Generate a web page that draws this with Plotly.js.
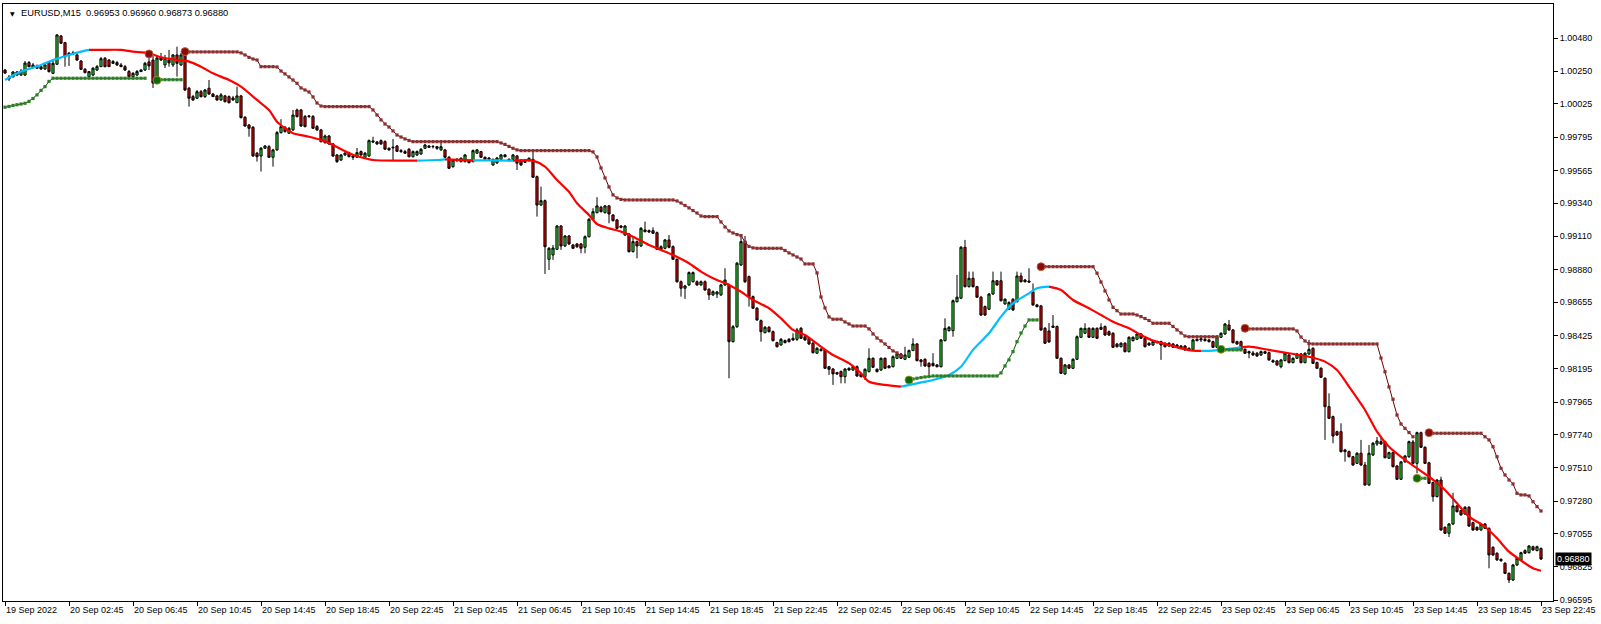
<!DOCTYPE html>
<html><head><meta charset="utf-8">
<script src="https://cdn.plot.ly/plotly-3.0.1.min.js"></script>
<style>html,body{margin:0;padding:0;background:#fff;}#chart{width:1601px;height:624px;}</style>
</head><body><div id="chart"></div>
<script>
const symbolTitle = 'EURUSD,M15';
const lastQuote = ['0.96953', '0.96960', '0.96873', '0.96880'];
const lastPrice = 0.96880;

const timeLabels = ['19 Sep 2022','20 Sep 02:45','20 Sep 06:45','20 Sep 10:45','20 Sep 14:45','20 Sep 18:45','20 Sep 22:45',
  '21 Sep 02:45','21 Sep 06:45','21 Sep 10:45','21 Sep 14:45','21 Sep 18:45','21 Sep 22:45',
  '22 Sep 02:45','22 Sep 06:45','22 Sep 10:45','22 Sep 14:45','22 Sep 18:45','22 Sep 22:45',
  '23 Sep 02:45','23 Sep 06:45','23 Sep 10:45','23 Sep 14:45','23 Sep 18:45','23 Sep 22:45'];
const barsPerLabel = 16;
const priceTicks = [1.00480,1.00250,1.00025,0.99795,0.99565,0.99340,0.99110,0.98880,0.98655,0.98425,0.98195,0.97965,0.97740,0.97510,0.97280,0.97055,0.96825,0.96595];

const open = [
1.00259,1.00197,1.00211,1.00245,1.00224,1.00224,1.00310,1.00294,1.00287,1.00282,
1.00266,1.00310,1.00236,1.00299,1.00494,1.00448,1.00363,1.00377,1.00363,1.00321,
1.00264,1.00213,1.00224,1.00259,1.00282,1.00340,1.00328,1.00305,1.00310,1.00294,
1.00282,1.00248,1.00213,1.00224,1.00248,1.00259,1.00315,1.00328,1.00190,1.00342,
1.00294,1.00328,1.00294,1.00363,1.00294,1.00386,1.00133,1.00075,1.00064,1.00109,
1.00075,1.00133,1.00093,1.00080,1.00052,1.00080,1.00075,1.00066,1.00033,1.00080,
0.99932,0.99879,0.99863,0.99684,0.99665,0.99718,0.99729,0.99656,0.99707,0.99826,
0.99863,0.99822,0.99845,0.99983,0.99983,0.99937,0.99937,0.99937,0.99868,0.99845,
0.99757,0.99803,0.99748,0.99672,0.99637,0.99672,0.99688,0.99665,0.99656,0.99695,
0.99656,0.99665,0.99769,0.99762,0.99771,0.99764,0.99718,0.99720,0.99734,0.99702,
0.99695,0.99711,0.99660,0.99672,0.99679,0.99718,0.99734,0.99729,0.99729,0.99707,
0.99707,0.99656,0.99591,0.99642,0.99626,0.99626,0.99632,0.99626,0.99684,0.99695,
0.99656,0.99651,0.99603,0.99617,0.99642,0.99672,0.99642,0.99642,0.99665,0.99637,
0.99630,0.99632,0.99642,0.99522,0.99326,0.99356,0.98951,0.98981,0.99020,0.99181,
0.99043,0.99112,0.99050,0.99057,0.99057,0.99034,0.99107,0.99227,0.99273,0.99311,
0.99273,0.99320,0.99257,0.99223,0.99181,0.99119,0.99126,0.99004,0.99073,0.99043,
0.99154,0.99149,0.99149,0.99135,0.99038,0.99027,0.99085,0.99038,0.98951,0.98796,
0.98751,0.98774,0.98796,0.98796,0.98774,0.98796,0.98744,0.98705,0.98711,0.98705,
0.98774,0.98774,0.98382,0.98485,0.98912,0.99073,0.98831,0.98693,0.98613,0.98527,
0.98444,0.98481,0.98451,0.98375,0.98359,0.98389,0.98398,0.98405,0.98398,0.98474,
0.98416,0.98405,0.98371,0.98302,0.98329,0.98325,0.98209,0.98193,0.98168,0.98175,
0.98140,0.98198,0.98186,0.98209,0.98159,0.98140,0.98175,0.98267,0.98191,0.98186,
0.98267,0.98214,0.98209,0.98267,0.98297,0.98260,0.98274,0.98320,0.98366,0.98256,
0.98260,0.98232,0.98232,0.98221,0.98209,0.98389,0.98458,0.98458,0.98658,0.98682,
0.99034,0.98762,0.98820,0.98762,0.98689,0.98624,0.98606,0.98711,0.98803,0.98803,
0.98643,0.98606,0.98675,0.98658,0.98836,0.98808,0.98801,0.98727,0.98636,0.98629,
0.98474,0.98456,0.98490,0.98486,0.98267,0.98159,0.98221,0.98198,0.98260,0.98412,
0.98440,0.98474,0.98412,0.98474,0.98481,0.98486,0.98451,0.98440,0.98366,0.98347,
0.98371,0.98313,0.98389,0.98398,0.98435,0.98405,0.98371,0.98359,0.98382,0.98382,
0.98371,0.98371,0.98366,0.98359,0.98352,0.98352,0.98336,0.98329,0.98398,0.98394,
0.98398,0.98394,0.98382,0.98343,0.98412,0.98435,0.98497,0.98463,0.98382,0.98382,
0.98329,0.98313,0.98304,0.98302,0.98290,0.98313,0.98306,0.98251,0.98249,0.98209,
0.98251,0.98290,0.98237,0.98267,0.98297,0.98237,0.98297,0.98336,0.98237,0.98198,
0.98129,0.97933,0.97864,0.97760,0.97760,0.97634,0.97622,0.97587,0.97541,0.97611,
0.97530,0.97392,0.97599,0.97675,0.97691,0.97691,0.97576,0.97615,0.97523,0.97431,
0.97551,0.97587,0.97689,0.97541,0.97753,0.97652,0.97545,0.97408,0.97311,0.97426,
0.97099,0.97058,0.97122,0.97247,0.97214,0.97191,0.97238,0.97131,0.97099,0.97081,
0.97122,0.97092,0.96961,0.96920,0.96878,0.96851,0.96781,0.96735,0.96839,0.96874,
0.96938,0.96924,0.96965,0.96938,0.96953];

const high = [
1.00266,1.00224,1.00252,1.00252,1.00266,1.00321,1.00321,1.00307,1.00297,1.00294,
1.00301,1.00321,1.00328,1.00508,1.00501,1.00453,1.00384,1.00391,1.00377,1.00328,
1.00273,1.00252,1.00280,1.00294,1.00349,1.00349,1.00335,1.00328,1.00321,1.00307,
1.00294,1.00259,1.00245,1.00259,1.00266,1.00315,1.00342,1.00356,1.00356,1.00377,
1.00363,1.00398,1.00370,1.00420,1.00377,1.00405,1.00142,1.00087,1.00121,1.00121,
1.00128,1.00190,1.00100,1.00087,1.00100,1.00087,1.00083,1.00080,1.00144,1.00087,
0.99941,0.99886,0.99872,0.99693,0.99727,0.99741,0.99741,0.99714,0.99838,0.99919,
0.99872,0.99865,0.99983,0.99992,0.99990,0.99948,0.99948,0.99948,0.99879,0.99852,
0.99813,0.99810,0.99755,0.99679,0.99679,0.99693,0.99695,0.99672,0.99720,0.99703,
0.99693,0.99779,0.99798,0.99769,0.99779,0.99773,0.99724,0.99783,0.99741,0.99713,
0.99707,0.99720,0.99703,0.99703,0.99720,0.99748,0.99741,0.99741,0.99734,0.99757,
0.99714,0.99665,0.99644,0.99651,0.99655,0.99679,0.99637,0.99710,0.99714,0.99700,
0.99662,0.99658,0.99647,0.99658,0.99679,0.99679,0.99648,0.99679,0.99672,0.99644,
0.99637,0.99655,0.99695,0.99530,0.99453,0.99364,0.99036,0.99050,0.99188,0.99188,
0.99119,0.99119,0.99057,0.99064,0.99064,0.99116,0.99237,0.99304,0.99380,0.99320,
0.99326,0.99326,0.99264,0.99230,0.99188,0.99188,0.99133,0.99107,0.99081,0.99174,
0.99211,0.99157,0.99172,0.99143,0.99047,0.99092,0.99119,0.99047,0.98957,0.98805,
0.98774,0.98867,0.98867,0.98805,0.98805,0.98805,0.98751,0.98736,0.98732,0.98781,
0.98889,0.98784,0.98497,0.98933,0.99112,0.99112,0.98839,0.98701,0.98622,0.98535,
0.98490,0.98490,0.98459,0.98382,0.98407,0.98397,0.98407,0.98440,0.98477,0.98483,
0.98428,0.98414,0.98380,0.98345,0.98338,0.98332,0.98214,0.98200,0.98173,0.98183,
0.98200,0.98204,0.98217,0.98217,0.98166,0.98198,0.98336,0.98273,0.98197,0.98273,
0.98273,0.98221,0.98287,0.98313,0.98304,0.98347,0.98328,0.98405,0.98373,0.98262,
0.98267,0.98241,0.98302,0.98228,0.98401,0.98543,0.98490,0.98673,0.98843,0.99043,
0.99085,0.98866,0.98866,0.98767,0.98698,0.98632,0.98718,0.98866,0.98808,0.98866,
0.98682,0.98661,0.98682,0.98866,0.98859,0.98815,0.98889,0.98784,0.98643,0.98636,
0.98483,0.98511,0.98566,0.98494,0.98273,0.98228,0.98228,0.98267,0.98425,0.98479,
0.98509,0.98481,0.98481,0.98481,0.98509,0.98494,0.98459,0.98447,0.98373,0.98378,
0.98378,0.98419,0.98419,0.98442,0.98442,0.98412,0.98378,0.98389,0.98389,0.98389,
0.98378,0.98378,0.98373,0.98366,0.98359,0.98359,0.98343,0.98401,0.98405,0.98407,
0.98407,0.98401,0.98389,0.98423,0.98447,0.98511,0.98532,0.98470,0.98389,0.98389,
0.98336,0.98320,0.98318,0.98311,0.98320,0.98320,0.98313,0.98260,0.98256,0.98262,
0.98309,0.98297,0.98274,0.98304,0.98304,0.98309,0.98394,0.98343,0.98244,0.98205,
0.98136,0.98025,0.97871,0.97767,0.97818,0.97641,0.97629,0.97593,0.97618,0.97703,
0.97551,0.97668,0.97689,0.97723,0.97725,0.97698,0.97622,0.97622,0.97530,0.97558,
0.97599,0.97698,0.97703,0.97760,0.97760,0.97659,0.97552,0.97415,0.97433,0.97449,
0.97106,0.97129,0.97338,0.97254,0.97221,0.97245,0.97245,0.97138,0.97106,0.97129,
0.97129,0.97099,0.96968,0.96927,0.96885,0.96858,0.96788,0.96846,0.96892,0.96930,
0.96947,0.96977,0.96972,0.96972,0.96960];

const low = [
1.00231,1.00183,1.00209,1.00218,1.00218,1.00218,1.00278,1.00271,1.00266,1.00259,
1.00259,1.00241,1.00231,1.00294,1.00439,1.00282,1.00287,1.00363,1.00321,1.00259,
1.00235,1.00211,1.00218,1.00252,1.00280,1.00277,1.00280,1.00301,1.00287,1.00280,
1.00252,1.00211,1.00208,1.00218,1.00245,1.00252,1.00259,1.00135,1.00176,1.00321,
1.00273,1.00282,1.00280,1.00213,1.00287,1.00114,1.00006,1.00045,1.00059,1.00069,
1.00066,1.00087,1.00073,1.00045,1.00045,1.00035,1.00028,1.00045,1.00031,0.99924,
0.99866,0.99798,0.99658,0.99626,0.99557,0.99714,0.99651,0.99591,0.99700,0.99820,
0.99827,0.99817,0.99838,0.99931,0.99866,0.99862,0.99928,0.99852,0.99838,0.99758,
0.99750,0.99741,0.99658,0.99617,0.99630,0.99665,0.99655,0.99637,0.99651,0.99665,
0.99651,0.99658,0.99755,0.99741,0.99741,0.99707,0.99700,0.99637,0.99692,0.99686,
0.99679,0.99655,0.99655,0.99665,0.99672,0.99714,0.99720,0.99717,0.99707,0.99700,
0.99651,0.99575,0.99584,0.99624,0.99620,0.99620,0.99613,0.99620,0.99679,0.99651,
0.99637,0.99630,0.99596,0.99610,0.99637,0.99655,0.99627,0.99637,0.99568,0.99596,
0.99617,0.99627,0.99513,0.99246,0.99319,0.98850,0.98877,0.98947,0.99016,0.99016,
0.99036,0.99050,0.99022,0.99029,0.98993,0.98993,0.99102,0.99223,0.99268,0.99275,
0.99268,0.99200,0.99212,0.99161,0.99165,0.99112,0.98998,0.98998,0.98958,0.99036,
0.99137,0.99133,0.99126,0.99016,0.99016,0.99020,0.99027,0.98947,0.98789,0.98693,
0.98677,0.98767,0.98791,0.98767,0.98767,0.98732,0.98670,0.98698,0.98684,0.98698,
0.98767,0.98129,0.98376,0.98477,0.98905,0.98787,0.98624,0.98608,0.98525,0.98382,
0.98439,0.98445,0.98383,0.98342,0.98354,0.98370,0.98376,0.98387,0.98387,0.98401,
0.98387,0.98359,0.98300,0.98297,0.98314,0.98193,0.98152,0.98083,0.98152,0.98094,
0.98094,0.98179,0.98179,0.98138,0.98134,0.98117,0.98169,0.98200,0.98169,0.98179,
0.98193,0.98197,0.98204,0.98262,0.98262,0.98256,0.98269,0.98318,0.98245,0.98209,
0.98207,0.98152,0.98210,0.98204,0.98204,0.98383,0.98452,0.98416,0.98653,0.98677,
0.98756,0.98756,0.98756,0.98684,0.98559,0.98559,0.98601,0.98705,0.98767,0.98660,
0.98636,0.98601,0.98594,0.98653,0.98791,0.98791,0.98787,0.98629,0.98618,0.98456,
0.98366,0.98373,0.98477,0.98262,0.98159,0.98152,0.98193,0.98193,0.98256,0.98407,
0.98435,0.98407,0.98407,0.98401,0.98463,0.98421,0.98421,0.98338,0.98342,0.98342,
0.98307,0.98307,0.98383,0.98394,0.98401,0.98342,0.98352,0.98352,0.98370,0.98256,
0.98342,0.98345,0.98338,0.98342,0.98332,0.98318,0.98318,0.98325,0.98383,0.98380,
0.98383,0.98376,0.98338,0.98338,0.98407,0.98428,0.98456,0.98370,0.98359,0.98318,
0.98297,0.98267,0.98283,0.98276,0.98283,0.98297,0.98249,0.98235,0.98214,0.98198,
0.98245,0.98232,0.98232,0.98262,0.98232,0.98232,0.98290,0.98228,0.98193,0.98131,
0.97703,0.97848,0.97680,0.97730,0.97616,0.97553,0.97582,0.97523,0.97537,0.97523,
0.97385,0.97385,0.97592,0.97661,0.97668,0.97576,0.97572,0.97513,0.97426,0.97426,
0.97546,0.97580,0.97537,0.97472,0.97647,0.97537,0.97398,0.97276,0.97306,0.97074,
0.97053,0.97032,0.97115,0.97202,0.97178,0.97184,0.97101,0.97074,0.97074,0.97074,
0.97088,0.96816,0.96901,0.96867,0.96860,0.96776,0.96714,0.96728,0.96832,0.96867,
0.96915,0.96918,0.96936,0.96934,0.96873];

const close = [
1.00238,1.00211,1.00245,1.00224,1.00252,1.00307,1.00282,1.00275,1.00271,1.00266,
1.00294,1.00248,1.00305,1.00501,1.00444,1.00351,1.00375,1.00372,1.00328,1.00264,
1.00241,1.00248,1.00271,1.00282,1.00337,1.00282,1.00282,1.00317,1.00294,1.00282,
1.00259,1.00213,1.00236,1.00248,1.00259,1.00305,1.00287,1.00169,1.00342,1.00328,
1.00340,1.00308,1.00363,1.00305,1.00363,1.00121,1.00064,1.00052,1.00109,1.00075,
1.00121,1.00093,1.00075,1.00052,1.00087,1.00040,1.00033,1.00052,1.00080,0.99930,
0.99872,0.99856,0.99665,0.99660,0.99718,0.99734,0.99656,0.99707,0.99826,0.99868,
0.99833,0.99856,0.99948,0.99937,0.99872,0.99868,0.99941,0.99856,0.99845,0.99764,
0.99803,0.99748,0.99665,0.99626,0.99672,0.99684,0.99660,0.99656,0.99688,0.99672,
0.99684,0.99771,0.99762,0.99748,0.99748,0.99712,0.99707,0.99725,0.99697,0.99696,
0.99684,0.99660,0.99695,0.99695,0.99711,0.99741,0.99725,0.99730,0.99718,0.99729,
0.99656,0.99580,0.99637,0.99632,0.99649,0.99672,0.99619,0.99702,0.99707,0.99656,
0.99642,0.99644,0.99642,0.99651,0.99672,0.99660,0.99632,0.99672,0.99615,0.99603,
0.99621,0.99649,0.99518,0.99326,0.99356,0.99038,0.99027,0.99029,0.99181,0.99043,
0.99112,0.99057,0.99027,0.99038,0.99027,0.99107,0.99227,0.99280,0.99320,0.99280,
0.99320,0.99264,0.99218,0.99165,0.99172,0.99181,0.99004,0.99073,0.99043,0.99165,
0.99142,0.99140,0.99131,0.99020,0.99020,0.99085,0.99034,0.98951,0.98796,0.98751,
0.98767,0.98859,0.98859,0.98774,0.98796,0.98739,0.98705,0.98727,0.98725,0.98774,
0.98808,0.98382,0.98485,0.98924,0.99073,0.98796,0.98693,0.98613,0.98532,0.98451,
0.98481,0.98451,0.98389,0.98347,0.98398,0.98375,0.98382,0.98394,0.98463,0.98405,
0.98394,0.98366,0.98306,0.98336,0.98320,0.98198,0.98191,0.98159,0.98159,0.98140,
0.98193,0.98186,0.98209,0.98145,0.98140,0.98191,0.98267,0.98205,0.98175,0.98267,
0.98198,0.98202,0.98278,0.98297,0.98267,0.98290,0.98320,0.98366,0.98251,0.98244,
0.98214,0.98209,0.98216,0.98209,0.98394,0.98474,0.98481,0.98665,0.98689,0.99034,
0.98762,0.98820,0.98762,0.98689,0.98566,0.98566,0.98711,0.98803,0.98774,0.98665,
0.98675,0.98652,0.98601,0.98836,0.98796,0.98796,0.98794,0.98636,0.98624,0.98463,
0.98371,0.98380,0.98481,0.98267,0.98163,0.98221,0.98198,0.98260,0.98416,0.98474,
0.98474,0.98412,0.98474,0.98405,0.98467,0.98428,0.98428,0.98343,0.98347,0.98371,
0.98313,0.98412,0.98412,0.98435,0.98405,0.98347,0.98359,0.98382,0.98375,0.98359,
0.98347,0.98352,0.98343,0.98347,0.98336,0.98325,0.98325,0.98394,0.98389,0.98401,
0.98389,0.98382,0.98343,0.98416,0.98440,0.98504,0.98463,0.98375,0.98366,0.98325,
0.98302,0.98304,0.98290,0.98283,0.98313,0.98302,0.98256,0.98242,0.98221,0.98256,
0.98302,0.98237,0.98267,0.98297,0.98237,0.98302,0.98329,0.98232,0.98198,0.98136,
0.97933,0.97852,0.97730,0.97737,0.97622,0.97622,0.97587,0.97530,0.97611,0.97530,
0.97392,0.97611,0.97680,0.97696,0.97675,0.97580,0.97615,0.97518,0.97431,0.97551,
0.97592,0.97691,0.97541,0.97753,0.97652,0.97541,0.97403,0.97311,0.97426,0.97081,
0.97058,0.97122,0.97247,0.97207,0.97185,0.97238,0.97108,0.97081,0.97081,0.97122,
0.97092,0.96908,0.96908,0.96874,0.96869,0.96781,0.96735,0.96839,0.96885,0.96924,
0.96920,0.96970,0.96943,0.96965,0.96880];

// smoothed trend line samples (bar index, price) and colour changes
const maBar = [0,4,9,12,16,19,21,24,29,32,36,39,42,46,49,52,56,59,63,66,68,70,72,76,79,82,86,89,92,99,103,108,110,117,122,127,132,135,138,141,143,146,148,151,154,157,161,164,167,171,174,177,181,184,187,191,194,197,200,204,207,211,214,216,220,224,228,232,236,239,242,246,249,252,256,258,261,264,267,271,274,277,281,284,287,291,294,297,299,302,307,309,311,316,321,326,330,333,336,340,343,346,350,353,356,360,363,366,370,373,376,380,382,384];
const maVal = [1.00190,1.00248,1.00294,1.00328,1.00363,1.00386,1.00398,1.00398,1.00398,1.00386,1.00375,1.00347,1.00333,1.00317,1.00282,1.00236,1.00190,1.00144,1.00052,0.99983,0.99902,0.99857,0.99822,0.99798,0.99776,0.99741,0.99684,0.99656,0.99637,0.99633,0.99633,0.99637,0.99641,0.99634,0.99634,0.99633,0.99633,0.99591,0.99499,0.99418,0.99338,0.99257,0.99195,0.99165,0.99142,0.99107,0.99050,0.99016,0.98981,0.98924,0.98866,0.98820,0.98774,0.98727,0.98670,0.98613,0.98543,0.98463,0.98428,0.98347,0.98290,0.98233,0.98163,0.98105,0.98083,0.98071,0.98094,0.98117,0.98152,0.98209,0.98325,0.98440,0.98555,0.98647,0.98716,0.98751,0.98762,0.98739,0.98670,0.98613,0.98566,0.98520,0.98474,0.98428,0.98389,0.98359,0.98336,0.98320,0.98318,0.98320,0.98336,0.98342,0.98347,0.98325,0.98302,0.98278,0.98244,0.98186,0.98071,0.97910,0.97760,0.97656,0.97565,0.97507,0.97449,0.97357,0.97265,0.97173,0.97103,0.97023,0.96931,0.96851,0.96816,0.96799];
const maTurns = [21,103,110,117,127,224,261,299,309];   // first segment rising (blue)

// trailing stops: support (green) below price, resistance (maroon) above price
const up1Start = 0;   const up1 = [1.00002,1.00007,1.00014,1.00019,1.00024,1.00029,1.00042,1.00062,1.00087,1.00118,1.00144,1.00180,
  1.00202,1.00202,1.00202,1.00202,1.00202,1.00202,1.00202,1.00202,1.00202,1.00202,1.00202,1.00202,1.00202,1.00202,1.00202,1.00202,1.00202,1.00202,1.00202,1.00202,1.00202,1.00202,1.00202,1.00202];
const up2Start = 38;  const up2 = [1.00188,1.00192,1.00192,1.00192,1.00192,1.00192,1.00192];
const up3Start = 226; const up3 = [0.98117,0.98124,0.98129,0.98134,0.98138,0.98141,
  0.98145,0.98145,0.98145,0.98145,0.98145,0.98145,0.98145,0.98145,0.98145,0.98145,0.98145,0.98145,0.98145,0.98145,0.98145,0.98145,0.98145,
  0.98166,0.98214,0.98256,0.98313,0.98382,0.98442,0.98490,0.98532,0.98532,0.98532];
const up4Start = 304; const up4 = [0.98329,0.98325,0.98325,0.98325,0.98325,0.98325];
const up5Start = 353; const up5 = [0.97438,0.97438,0.97438];

const dn0Start = 36;  const dn0 = [1.00370];
const dn1Start = 45;  const dn1 = [
  1.00386,1.00384,1.00384,1.00384,1.00384,1.00384,1.00384,1.00384,1.00384,1.00384,1.00384,1.00384,1.00384,1.00384,
  1.00377,1.00363,1.00346,1.00335,1.00328,
  1.00282,1.00282,1.00282,1.00282,
  1.00280,1.00252,1.00232,1.00211,1.00190,1.00167,1.00135,1.00121,1.00107,1.00073,1.00031,1.00010,
  1.00006,1.00006,1.00006,1.00006,1.00006,1.00006,1.00006,1.00006,1.00006,1.00006,1.00006,1.00006,
  0.99983,0.99948,0.99914,0.99886,0.99865,0.99838,0.99810,0.99796,0.99783,0.99772,
  0.99764,0.99764,0.99764,0.99764,0.99764,0.99764,0.99764,0.99764,0.99764,0.99764,0.99764,0.99764,0.99764,0.99764,0.99764,0.99764,0.99764,0.99764,0.99764,0.99764,0.99764,0.99764,
  0.99755,0.99745,0.99731,0.99718,0.99707,
  0.99702,0.99702,0.99702,0.99702,0.99702,0.99702,0.99702,0.99702,0.99702,0.99702,0.99702,0.99702,0.99702,0.99702,0.99702,0.99702,0.99702,0.99702,
  0.99693,0.99658,0.99582,0.99513,0.99451,0.99396,0.99375,0.99365,
  0.99361,0.99361,0.99361,0.99361,0.99361,0.99361,0.99361,0.99361,0.99361,0.99361,0.99361,0.99361,0.99361,
  0.99354,0.99340,0.99323,0.99306,0.99288,0.99271,0.99250,
  0.99246,0.99246,0.99246,0.99246,
  0.99209,0.99174,0.99147,0.99133,0.99122,0.99115,0.99070,0.99040,0.99030,
  0.99027,0.99027,0.99027,0.99027,0.99027,0.99027,0.99027,
  0.99012,0.98995,0.98981,0.98967,0.98953,
  0.98919,0.98919,0.98919,
  0.98857,0.98691,0.98615,0.98553,
  0.98537,0.98537,0.98537,
  0.98518,0.98504,
  0.98490,0.98490,0.98490,0.98490,
  0.98470,0.98435,0.98407,0.98387,0.98366,0.98342,0.98318,0.98304,0.98283];
const dn2Start = 259; const dn2 = [
  0.98900,0.98900,0.98900,0.98900,0.98900,0.98900,0.98900,0.98900,0.98900,0.98900,0.98900,0.98900,0.98900,0.98900,
  0.98855,0.98794,0.98732,0.98670,0.98619,0.98596,
  0.98573,0.98573,0.98573,0.98573,
  0.98566,0.98555,0.98542,0.98528,
  0.98509,0.98509,0.98509,0.98509,0.98509,
  0.98487,0.98463,0.98442,0.98421,
  0.98416,0.98416,0.98416,0.98416,0.98416,0.98416,0.98416,0.98416];
const dn3Start = 310; const dn3 = [
  0.98474,
  0.98470,0.98470,0.98470,0.98470,0.98470,0.98470,0.98470,0.98470,0.98470,0.98470,0.98470,0.98470,
  0.98456,0.98414,0.98387,0.98369,
  0.98366,0.98366,0.98366,0.98366,0.98366,0.98366,0.98366,0.98366,0.98366,0.98366,0.98366,0.98366,0.98366,0.98366,0.98366,0.98366,0.98366,
  0.98269,0.98174,0.98069,0.97984,0.97875,0.97813,0.97783,0.97754,0.97725];
const dn4Start = 356; const dn4 = [
  0.97753,
  0.97749,0.97749,0.97749,0.97749,0.97749,0.97749,0.97749,0.97749,0.97749,0.97749,0.97749,0.97749,0.97749,
  0.97725,0.97703,0.97656,0.97587,0.97507,0.97461,0.97426,0.97399,0.97334,0.97323,0.97323,0.97316,0.97276,0.97242,0.97212];

// ---------------- build ----------------
const FONT = 'Liberation Sans, Arial, sans-serif';
const bars = close.map((_, i) => i);
const traces = [];

traces.push({
  type: 'candlestick', x: bars, open: open, high: high, low: low, close: close,
  increasing: {line: {color: '#000000', width: 1}, fillcolor: '#2ad82a'},
  decreasing: {line: {color: '#000000', width: 1}, fillcolor: '#e80000'},
  whiskerwidth: 0, showlegend: false, hoverinfo: 'skip'
});

// trend line segments
const cuts = [maBar[0]].concat(maTurns, [maBar[maBar.length - 1]]);
for (let s = 0; s < cuts.length - 1; s++) {
  const a = cuts[s], b = cuts[s + 1];
  const xs = [], ys = [];
  maBar.forEach((bIdx, k) => { if (bIdx >= a && bIdx <= b) { xs.push(bIdx); ys.push(maVal[k]); } });
  traces.push({
    type: 'scatter', mode: 'lines', x: xs, y: ys, showlegend: false, hoverinfo: 'skip',
    line: {color: s % 2 === 0 ? '#00bfff' : '#ff0000', width: 2.2, shape: 'spline', smoothing: 0.7}
  });
}

function stopTrace(start, vals, lineCol, dotCol) {
  return {
    type: 'scatter', mode: 'lines+markers', x: vals.map((_, k) => start + k), y: vals,
    showlegend: false, hoverinfo: 'skip',
    line: {color: lineCol, width: 1},
    marker: {size: 3.2, color: dotCol, symbol: 'square', line: {width: 0}}
  };
}
const upSegs = [[up1Start, up1], [up2Start, up2], [up3Start, up3], [up4Start, up4], [up5Start, up5]];
const dnSegs = [[dn0Start, dn0], [dn1Start, dn1], [dn2Start, dn2], [dn3Start, dn3], [dn4Start, dn4]];
upSegs.forEach(s => traces.push(stopTrace(s[0], s[1], '#005a00', '#2f7d28')));
dnSegs.forEach(s => traces.push(stopTrace(s[0], s[1], '#700000', '#8c2e2e')));

// signal dots at the start of each new stop line
const upSig = upSegs.slice(1);
traces.push({type: 'scatter', mode: 'markers', x: upSig.map(s => s[0]), y: upSig.map(s => s[1][0]),
  showlegend: false, hoverinfo: 'skip',
  marker: {size: 8, color: '#0b6b0b', line: {color: '#a89a20', width: 0.8}}});
traces.push({type: 'scatter', mode: 'markers', x: dnSegs.map(s => s[0]), y: dnSegs.map(s => s[1][0]),
  showlegend: false, hoverinfo: 'skip',
  marker: {size: 8, color: '#8b0a0a', line: {color: '#c06a3a', width: 0.8}}});

const layout = {
  width: 1601, height: 624,
  margin: {l: 3, r: 48, t: 4, b: 23, pad: 0},
  paper_bgcolor: '#ffffff', plot_bgcolor: '#ffffff',
  showlegend: false, hovermode: false, boxgap: 0.22,
  font: {family: FONT, size: 9, color: '#000000'},
  xaxis: {
    type: 'linear', range: [-0.5, 387], rangeslider: {visible: false},
    showgrid: false, zeroline: false, showline: true, mirror: true, linecolor: '#000000', linewidth: 1,
    tickmode: 'array', tickvals: timeLabels.map((_, k) => k * barsPerLabel), ticktext: timeLabels,
    ticks: 'outside', ticklen: 4, tickcolor: '#000000', ticklabelposition: 'outside right',
    tickfont: {family: FONT, size: 9, color: '#000000'}, fixedrange: true
  },
  yaxis: {
    side: 'right', range: [0.96590, 1.00715],
    showgrid: false, zeroline: false, showline: true, mirror: true, linecolor: '#000000', linewidth: 1,
    tickmode: 'array', tickvals: priceTicks, ticktext: priceTicks.map(v => v.toFixed(5)),
    ticks: 'outside', ticklen: 4, tickcolor: '#000000',
    tickfont: {family: FONT, size: 9, color: '#000000'}, fixedrange: true
  },
  annotations: [
    {xref: 'paper', yref: 'paper', x: 0, y: 1, xanchor: 'left', yanchor: 'top', xshift: 5, yshift: -4,
     text: '▼', showarrow: false, font: {family: 'DejaVu Sans', size: 6, color: '#000000'}},
    {xref: 'paper', yref: 'paper', x: 0, y: 1, xanchor: 'left', yanchor: 'top', xshift: 16, yshift: -2,
     text: symbolTitle + '  ' + lastQuote.join(' '), showarrow: false, font: {family: FONT, size: 9.3, color: '#000000'}},
    {xref: 'paper', yref: 'y', x: 1, y: lastPrice, xanchor: 'left', yanchor: 'middle', xshift: 2,
     text: lastPrice.toFixed(5), showarrow: false, bgcolor: '#000000', borderpad: 1,
     font: {family: FONT, size: 9, color: '#ffffff'}}
  ]
};

Plotly.newPlot('chart', traces, layout, {displayModeBar: false, staticPlot: true});
</script>
</body></html>
